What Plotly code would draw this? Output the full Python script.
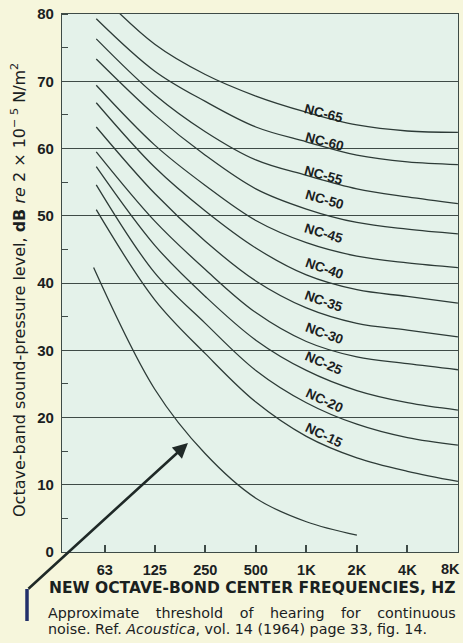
import math
import numpy as np
import plotly.graph_objects as go

# ---------------- data ----------------
band_freqs = [56, 125, 250, 500, 1000, 2000, 4000, 8000]
nc_names = ["NC-65", "NC-60", "NC-55", "NC-50", "NC-45", "NC-40",
            "NC-35", "NC-30", "NC-25", "NC-20", "NC-15"]
nc_65 = [83.5, 75.5, 71.0, 67.8, 65.4, 63.5, 62.6, 62.4]
nc_60 = [79.3, 71.5, 67.0, 63.2, 61.0, 59.0, 58.0, 57.6]
nc_55 = [76.3, 68.0, 62.5, 58.3, 56.0, 54.0, 52.8, 51.8]
nc_50 = [73.3, 65.0, 59.0, 54.0, 51.0, 49.0, 48.0, 47.3]
nc_45 = [69.4, 60.5, 54.5, 49.3, 46.0, 44.0, 43.0, 42.3]
nc_40 = [66.8, 57.2, 50.7, 45.2, 41.2, 39.0, 38.0, 37.0]
nc_35 = [63.2, 53.3, 46.2, 40.3, 36.3, 34.0, 33.0, 32.0]
nc_30 = [59.5, 49.2, 42.0, 35.6, 31.3, 29.0, 28.0, 27.1]
nc_25 = [57.3, 45.6, 38.0, 31.5, 27.0, 24.0, 22.2, 21.1]
nc_20 = [54.6, 41.5, 34.0, 27.0, 22.2, 19.0, 17.0, 15.9]
nc_15 = [50.9, 37.5, 29.5, 22.3, 17.2, 14.0, 12.0, 10.5]

thr_freqs = [54, 125, 250, 500, 1000, 2000]
thr_levels = [42.3, 24.2, 14.6, 8.0, 4.5, 2.5]

tick_freqs = [63, 125, 250, 500, 1000, 2000, 4000, 8000]
tick_text = ["63", "125", "250", "500", "1K", "2K", "4K", "8K"]
y_ticks = [0, 10, 20, 30, 40, 50, 60, 70, 80]

x_title = "NEW OCTAVE-BOND CENTER FREQUENCIES, HZ"
y_title = ("Octave-band sound-pressure level, <b>dB</b> <i>re</i> 2 \u00d7 10<sup>\u2212 5</sup> N/m<sup>2</sup>")
GAP = "\u00a0\u00a0\u00a0\u2009"
caption_1 = GAP.join(["Approximate", "threshold", "of", "hearing", "for", "continuous"])
caption_2 = "noise. Ref. <i>Acoustica</i>, vol. 14 (1964) page 33, fig. 14."

# ---------------- layout constants ----------------
W, H = 463, 643
ML, MR, MT, MB = 62, 5, 14, 91
PW, PH = W - ML - MR, H - MT - MB
X_MIN, X_MAX = 35, 8010
Y_MIN, Y_MAX = 0, 80

LINE_COL = "#2d3b37"
GRID_COL = "#3e4b47"
TEXT_COL = "#1a211f"
TICK_FONT = dict(family="Liberation Sans", size=14.5, color=TEXT_COL, weight="bold")

# pixel nudges for the curve labels (layout only)
label_yshift = [3, 5, 5, 14, 14, 12, 12, 14, 14, 10, 8]

nc_series = [nc_65, nc_60, nc_55, nc_50, nc_45, nc_40,
             nc_35, nc_30, nc_25, nc_20, nc_15]

fig = go.Figure()
for name, vals in zip(nc_names, nc_series):
    fig.add_trace(go.Scatter(x=band_freqs, y=vals, mode="lines", name=name,
                             line=dict(color=LINE_COL, width=1.3, shape="spline", smoothing=1.0),
                             showlegend=False, hoverinfo="skip"))

fig.add_trace(go.Scatter(x=thr_freqs, y=thr_levels, mode="lines", name="threshold",
                         line=dict(color=LINE_COL, width=1.3, shape="spline", smoothing=1.0),
                         showlegend=False, hoverinfo="skip"))

# curve labels, placed on each curve and rotated along its slope
px_per_dec = PW / (math.log10(X_MAX) - math.log10(X_MIN))
px_per_db = PH / (Y_MAX - Y_MIN)
label_f = 1280
lf = np.log10(band_freqs)
for name, vals, ys in zip(nc_names, nc_series, label_yshift):
    f1, f2 = label_f / 1.7, label_f * 1.7
    v = float(np.interp(math.log10(label_f), lf, vals))
    v1 = float(np.interp(math.log10(f1), lf, vals))
    v2 = float(np.interp(math.log10(f2), lf, vals))
    slope = (v2 - v1) / (math.log10(f2) - math.log10(f1))
    ang = math.degrees(math.atan(-slope * px_per_db / px_per_dec))
    fig.add_annotation(x=math.log10(label_f), y=v, text=name, showarrow=False,
                       textangle=ang, yshift=ys, xanchor="center", yanchor="middle",
                       font=dict(family="Liberation Sans", size=13.5, color=TEXT_COL, weight="bold"))

def px_to_paper_x(px):
    return (px - ML) / PW

def px_to_paper_y(py):
    return (H - MB - py) / PH

# the last tick label sits at the right edge, so it is right-aligned there
fig.add_annotation(xref="paper", yref="paper", x=px_to_paper_x(462), y=px_to_paper_y(569),
                   text=tick_text[-1], showarrow=False, xanchor="right", yanchor="middle",
                   font=TICK_FONT)
axis_tick_text = tick_text[:-1] + [""]

# y-axis title
fig.add_annotation(xref="paper", yref="paper", x=px_to_paper_x(18), y=px_to_paper_y(290),
                   text=y_title, textangle=-90, showarrow=False,
                   xanchor="center", yanchor="middle",
                   font=dict(family="DejaVu Sans", size=16, color=TEXT_COL))
# x-axis title
fig.add_annotation(xref="paper", yref="paper", x=px_to_paper_x(47), y=px_to_paper_y(588),
                   text=x_title, showarrow=False, xanchor="left", yanchor="middle",
                   font=dict(family="DejaVu Sans", size=15.5, color=TEXT_COL, weight="bold"))
# caption
fig.add_annotation(xref="paper", yref="paper", x=px_to_paper_x(46), y=px_to_paper_y(613),
                   text=caption_1, showarrow=False, xanchor="left", yanchor="middle",
                   font=dict(family="DejaVu Sans", size=14.3, color=TEXT_COL))
fig.add_annotation(xref="paper", yref="paper", x=px_to_paper_x(46), y=px_to_paper_y(629),
                   text=caption_2, showarrow=False, xanchor="left", yanchor="middle",
                   font=dict(family="DejaVu Sans", size=14.3, color=TEXT_COL))

# arrow pointing at the threshold curve
arrow_tip_f, arrow_tip_db = 197, 16.2
fig.add_annotation(x=math.log10(arrow_tip_f), y=arrow_tip_db, text="", showarrow=True,
                   ax=-161, ay=147, arrowhead=2, arrowsize=1.15, arrowwidth=2.6,
                   arrowcolor="#1f2927")
fig.add_shape(type="line", xref="paper", yref="paper",
              x0=px_to_paper_x(27), x1=px_to_paper_x(27),
              y0=px_to_paper_y(589), y1=px_to_paper_y(621),
              line=dict(color="#22306a", width=3.5))

fig.update_layout(
    width=W, height=H,
    margin=dict(l=ML, r=MR, t=MT, b=MB, autoexpand=False),
    paper_bgcolor="#f6f6dc",
    plot_bgcolor="#e4f2ea",
    showlegend=False,
    xaxis=dict(type="log", range=[math.log10(X_MIN), math.log10(X_MAX)],
               automargin=False,
               tickvals=tick_freqs, ticktext=axis_tick_text,
               ticks="inside", ticklen=7, tickwidth=1.5, tickcolor=GRID_COL,
               showgrid=False, zeroline=False,
               showline=True, linecolor=GRID_COL, linewidth=1.3, mirror=True,
               ticklabelstandoff=4,
               tickfont=TICK_FONT),
    yaxis=dict(range=[Y_MIN, Y_MAX], tickvals=y_ticks, automargin=False,
               ticks="", showgrid=True, gridcolor=GRID_COL, gridwidth=1.2,
               zeroline=False,
               showline=True, linecolor=GRID_COL, linewidth=1.3, mirror=True,
               minor=dict(dtick=5, ticks="inside", ticklen=6, tickwidth=1.2,
                          tickcolor=GRID_COL, showgrid=False),
               ticklabelstandoff=4,
               tickfont=dict(family="Liberation Sans", size=15, color=TEXT_COL, weight="bold")),
)

fig.write_html("out.html", config={"displayModeBar": False},
               post_script="document.body.style.margin='0';document.body.style.background='#f6f6dc';")
